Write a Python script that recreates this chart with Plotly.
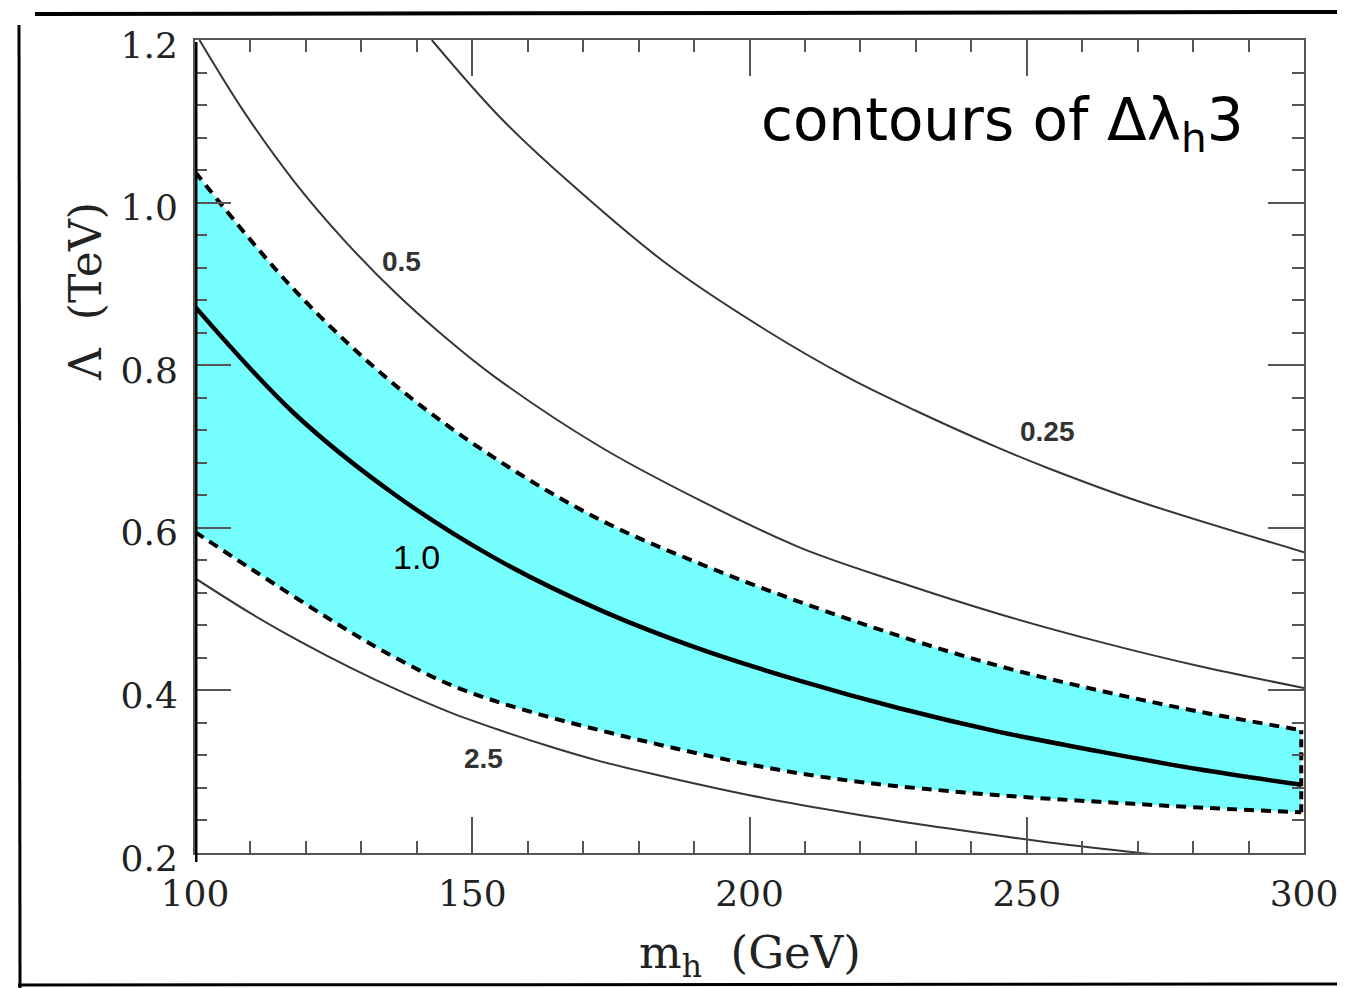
import plotly.graph_objects as go

# ---------------- data ----------------
# m_h in GeV, Lambda in TeV
x_upper = [100, 118, 136, 154, 173, 191, 209, 227, 245, 263, 281, 299.5]
y_upper = [1.038, 0.892, 0.776, 0.686, 0.610, 0.556, 0.509, 0.467, 0.430, 0.400, 0.374, 0.351]

x_lower = [100, 110, 128, 137, 146, 155, 164, 173, 182, 191, 200, 209, 218, 227, 245, 263, 281, 299.5]
y_lower = [0.595, 0.550, 0.472, 0.437, 0.407, 0.385, 0.367, 0.351, 0.336, 0.322, 0.309, 0.298,
           0.289, 0.282, 0.271, 0.263, 0.256, 0.250]

x_c10 = [100, 118, 136, 154, 173, 191, 209, 227, 245, 263, 281, 299.5]
y_c10 = [0.872, 0.740, 0.641, 0.563, 0.499, 0.451, 0.412, 0.378, 0.349, 0.325, 0.303, 0.284]

x_c05 = [100.8, 109, 118, 127, 136, 145, 154, 173, 191, 209, 227, 245, 263, 281, 300]
y_c05 = [1.200, 1.110, 1.025, 0.953, 0.890, 0.835, 0.786, 0.700, 0.634, 0.576, 0.533, 0.494,
         0.460, 0.430, 0.403]

x_c025 = [142.7, 155, 167, 185, 203, 218, 230, 245, 254, 270, 300]
y_c025 = [1.200, 1.105, 1.028, 0.925, 0.843, 0.784, 0.744, 0.698, 0.673, 0.633, 0.570]

x_c25 = [100, 110, 119, 128, 137, 146, 155, 164, 173, 182, 200, 218, 236, 254, 272, 280]
y_c25 = [0.538, 0.495, 0.460, 0.428, 0.399, 0.373, 0.351, 0.331, 0.313, 0.298, 0.271, 0.249,
         0.230, 0.213, 0.199, 0.193]

contour_labels = ["0.5", "0.25", "2.5"]
contour_label_x = [137.3, 253.8, 152.1]
contour_label_y = [0.927, 0.718, 0.316]
central_label = "1.0"
central_label_x, central_label_y = 140.0, 0.564

x_ticks = [100, 150, 200, 250, 300]
x_tick_text = ["100", "150", "200", "250", "300"]
y_ticks = [0.2, 0.4, 0.6, 0.8, 1.0, 1.2]
y_tick_text = ["0.2", "0.4", "0.6", "0.8", "1.0", "1.2"]

# ---------------- figure ----------------
OFF = 8                       # page body margin
W, H = 1345 - OFF, 988 - OFF
L, T = 195 - OFF, 40 - OFF
PW, PH = 1109, 813
R, B = W - L - PW, H - T - PH

def px(xp):   # page pixel -> paper x
    return (xp - OFF - L) / PW

def py(yp):   # page pixel -> paper y
    return (T + PH - (yp - OFF)) / PH

CYAN = "#75FFFF"
GRAY = "#363636"
AXC = "#555555"
SERIF = "DejaVu Serif"

fig = go.Figure()

# band fill (lower then upper filled to it)
fig.add_trace(go.Scatter(x=x_lower, y=y_lower, mode="lines", line=dict(width=0, shape="spline"),
                         showlegend=False, hoverinfo="skip"))
fig.add_trace(go.Scatter(x=x_upper, y=y_upper, mode="lines", line=dict(width=0, shape="spline"),
                         fill="tonexty", fillcolor=CYAN, showlegend=False, hoverinfo="skip"))

# thin gray contours
for xs, ys in [(x_c05, y_c05), (x_c025, y_c025), (x_c25, y_c25)]:
    fig.add_trace(go.Scatter(x=xs, y=ys, mode="lines",
                             line=dict(color=GRAY, width=2, shape="spline"),
                             showlegend=False, hoverinfo="skip"))

# dashed band boundaries
fig.add_trace(go.Scatter(x=x_upper, y=y_upper, mode="lines",
                         line=dict(color="black", width=4, dash="10px,7px", shape="spline"),
                         showlegend=False))
fig.add_trace(go.Scatter(x=x_lower, y=y_lower, mode="lines",
                         line=dict(color="black", width=4, dash="10px,7px", shape="spline"),
                         showlegend=False))
fig.add_trace(go.Scatter(x=[x_lower[-1], x_upper[-1]], y=[y_lower[-1], y_upper[-1]], mode="lines",
                         line=dict(color="black", width=4, dash="8px,5px"),
                         showlegend=False))

# central contour
fig.add_trace(go.Scatter(x=x_c10, y=y_c10, mode="lines",
                         line=dict(color="black", width=4.5, shape="spline"),
                         showlegend=False))

annotations = []
for t, xv, yv in zip(contour_labels, contour_label_x, contour_label_y):
    annotations.append(dict(x=xv, y=yv, xref="x", yref="y", text="<b>%s</b>" % t, showarrow=False,
                            font=dict(family="Liberation Sans, Arial", size=28, color="#333333")))
annotations.append(dict(x=central_label_x, y=central_label_y, xref="x", yref="y", text=central_label,
                        showarrow=False, font=dict(family="Liberation Sans, Arial", size=34, color="black")))

annotations.append(dict(x=px(1246), y=py(124), xref="paper", yref="paper",
                        text="contours of \u0394\u03bb<sub>h</sub>3", showarrow=False,
                        xanchor="right", yanchor="middle",
                        font=dict(family="DejaVu Sans", size=58, color="black")))

annotations.append(dict(x=px(750), y=py(955), xref="paper", yref="paper",
                        text="m<sub>h</sub>  (GeV)", showarrow=False, xanchor="center", yanchor="middle",
                        font=dict(family=SERIF, size=45, color="#222222")))
annotations.append(dict(x=px(85), y=py(292), xref="paper", yref="paper",
                        text="\u039b  (TeV)", showarrow=False, textangle=-90,
                        xanchor="center", yanchor="middle",
                        font=dict(family=SERIF, size=44, color="#222222")))

shapes = [
    # thick left axis
    dict(type="line", xref="x", yref="paper", x0=100, x1=100, y0=py(862), y1=py(42),
         line=dict(color="black", width=5), layer="above"),
    # sketchy frame around the picture
    dict(type="line", xref="paper", yref="paper", x0=px(35), x1=px(1345), y0=py(14), y1=py(12),
         line=dict(color="black", width=4), layer="above"),
    dict(type="line", xref="paper", yref="paper", x0=px(19), x1=px(20), y0=py(25), y1=py(988),
         line=dict(color="black", width=3), layer="above"),
    dict(type="line", xref="paper", yref="paper", x0=px(18), x1=px(1345), y0=py(985), y1=py(984),
         line=dict(color="black", width=3), layer="above"),
    dict(type="line", xref="paper", yref="paper", x0=px(1342), x1=px(1342), y0=py(20), y1=py(988),
         line=dict(color="black", width=3), layer="above"),
]

axis_common = dict(showline=True, linecolor=AXC, linewidth=2, mirror="allticks",
                   ticks="inside", ticklen=36, tickwidth=2, tickcolor=AXC,
                   showgrid=False, zeroline=False,
                   tickfont=dict(family=SERIF, size=36, color="#222222"))

fig.update_xaxes(range=[100, 300], tickvals=x_ticks, ticktext=x_tick_text,
                 minor=dict(dtick=10, tick0=100, ticks="inside", ticklen=12, tickwidth=2, tickcolor=AXC),
                 ticklabelstandoff=8, **axis_common)
fig.update_yaxes(range=[0.2, 1.2], tickvals=y_ticks, ticktext=y_tick_text,
                 minor=dict(dtick=0.04, tick0=0.2, ticks="inside", ticklen=12, tickwidth=2, tickcolor=AXC),
                 ticklabelstandoff=8, ticklabelshift=5, **axis_common)

fig.update_layout(width=W, height=H, margin=dict(l=L, r=R, t=T, b=B, autoexpand=False),
                  plot_bgcolor="white", paper_bgcolor="white",
                  annotations=annotations, shapes=shapes, showlegend=False)

fig.write_html("out.html")
